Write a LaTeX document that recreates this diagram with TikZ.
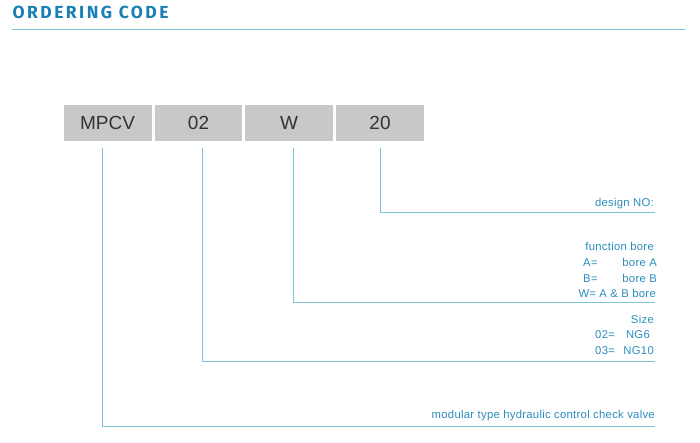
\documentclass[tikz,border=0pt]{standalone}
\usepackage{fontspec}
\setmainfont{Liberation Sans}
\newfontfamily\titlefont[LetterSpace=14]{Fira Sans}
\newfontfamily\lblfont[LetterSpace=2.5]{Liberation Sans}
\definecolor{titleblue}{HTML}{1A7FB5}
\definecolor{textblue}{HTML}{2A8CBC}
\definecolor{lineblue}{HTML}{7CC3DA}
\definecolor{boxgray}{HTML}{C8C8C8}
\definecolor{boxtext}{HTML}{333333}
\tikzset{
  codebox/.style={fill=boxgray, draw=none, minimum height=35.7pt, inner sep=0pt, text=boxtext, font=\fontsize{19}{19}\selectfont},
  lbl/.style={text=textblue, font=\lblfont\fontsize{11.3}{12}\selectfont, inner sep=0pt},
  conn/.style={draw=lineblue, line width=1pt},
}
\begin{document}
\begin{tikzpicture}[x=1pt,y=-1pt]
\useasboundingbox (0,0) rectangle (700,443);
\node[anchor=base west, text=titleblue, inner sep=0pt, font=\titlefont\bfseries\fontsize{17.5}{18}\selectfont] (title) at (12.5,19) {ORDERING CODE};
\coordinate (tl) at (12,30);
\coordinate (tr) at (685,30);
\draw[conn] (tl) -- (tr);
\node[codebox, minimum width=88pt] (b1) at (107.5,123) {MPCV};
\node[codebox, minimum width=87.6pt] (b2) at (198.5,123) {02};
\node[codebox, minimum width=88pt] (b3) at (289,123) {W};
\node[codebox, minimum width=88pt] (b4) at (380,123) {20};
\coordinate (e4) at (655,213);
\coordinate (e3) at (655,302);
\coordinate (e2) at (655,361);
\coordinate (e1) at (655,426);
\draw[conn] ([xshift=-5.5pt,yshift=-7pt]b1.south) |- (e1);
\draw[conn] ([xshift=3.5pt,yshift=-7pt]b2.south) |- (e2);
\draw[conn] ([xshift=4pt,yshift=-7pt]b3.south) |- (e3);
\draw[conn] ([yshift=-7pt]b4.south) |- (e4);
\node[lbl, anchor=base east] (d1) at (654,207) {design NO:};
\node[lbl, anchor=base east] (f1) at (654,251) {function bore};
\node[lbl, anchor=base west] (f2) at (583,266) {A=};
\node[lbl, anchor=base east] (f3) at (657,266) {bore A};
\node[lbl, anchor=base west] (f4) at (583,282) {B=};
\node[lbl, anchor=base east] (f5) at (657,282) {bore B};
\node[lbl, anchor=base east] (f6) at (656,297) {W= A \& B bore};
\node[lbl, anchor=base east] (s1) at (654,323) {Size};
\node[lbl, anchor=base west] (s2) at (595,338) {02=};
\node[lbl, anchor=base east] (s3) at (650,338) {NG6};
\node[lbl, anchor=base west] (s4) at (595,354) {03=};
\node[lbl, anchor=base east] (s5) at (654,354) {NG10};
\node[lbl, anchor=base east] (m1) at (655,418) {modular type hydraulic control check valve};
\end{tikzpicture}
\end{document}
